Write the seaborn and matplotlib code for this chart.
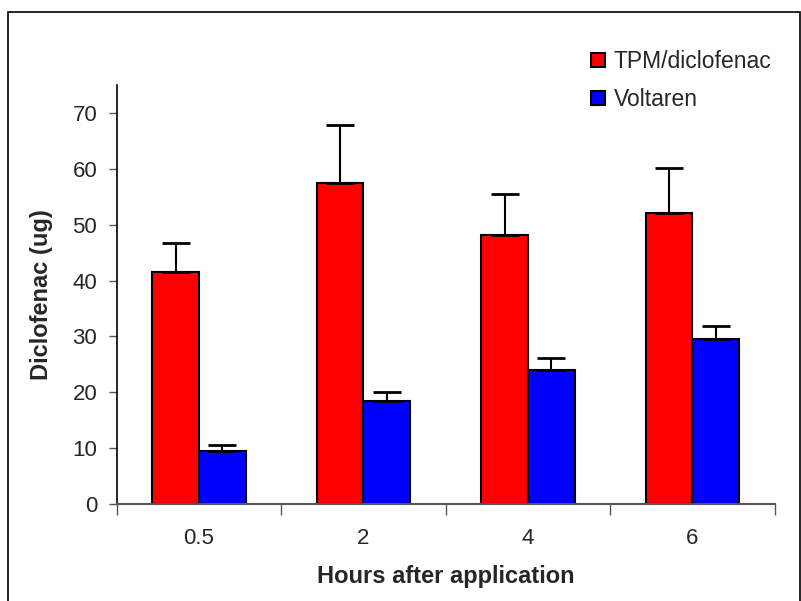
import numpy as np
import pandas as pd
import matplotlib
matplotlib.use("Agg")
import matplotlib.pyplot as plt
import seaborn as sns
from matplotlib.patches import Rectangle

# values
hours = ["0.5", "2", "4", "6"]
tpm_mean = [41.6, 57.4, 48.1, 52.1]
tpm_err = [5.1, 10.5, 7.4, 8.1]
volt_mean = [9.4, 18.4, 24.0, 29.5]
volt_err = [1.2, 1.7, 2.2, 2.4]
groups = ["TPM/diclofenac", "Voltaren"]
colors = ["#FF0000", "#0000FF"]

df = pd.DataFrame({
    "Hours": hours * 2,
    "Diclofenac": tpm_mean + volt_mean,
    "Group": [groups[0]] * 4 + [groups[1]] * 4,
})

sns.set_style("white")
plt.rcParams["font.family"] = ["Liberation Sans", "DejaVu Sans"]

fig = plt.figure(figsize=(8.01, 6.01), dpi=100)
ax = fig.add_axes([0.1457, 0.1614, 0.8215, 0.6972])

sns.barplot(data=df, x="Hours", y="Diclofenac", hue="Group", palette=colors,
            width=0.57, edgecolor="black", linewidth=1.5, errorbar=None,
            saturation=1, ax=ax)

# upper error bars only, placed on the bars seaborn drew
for cont, errs in zip(ax.containers, [tpm_err, volt_err]):
    xs = [b.get_x() + b.get_width() / 2 for b in cont]
    hs = [b.get_height() for b in cont]
    ax.errorbar(xs, hs, yerr=[np.zeros(len(errs)), errs], fmt="none",
                ecolor="black", elinewidth=1.5, capsize=10, capthick=2, zorder=1)

ax.set_xlim(-0.5, 3.5)
ax.set_ylim(0, 75)
ax.set_yticks(range(0, 80, 10))

# category boundaries get the tick marks, labels sit on minor ticks
ax.set_xticks([-0.5, 0.5, 1.5, 2.5, 3.5])
ax.set_xticklabels([])
ax.set_xticks(range(len(hours)), minor=True)
ax.set_xticklabels(hours, minor=True)
ax.tick_params(axis="x", which="major", direction="out", length=8, width=1, color="#555555", bottom=True)
ax.tick_params(axis="x", which="minor", length=0, pad=17, labelsize=16)
ax.tick_params(axis="y", direction="out", length=6, width=1, color="#555555", pad=8, labelsize=16, left=True)

for s in ["top", "right"]:
    ax.spines[s].set_visible(False)
ax.spines["left"].set_color("black")
ax.spines["left"].set_linewidth(1.2)
ax.spines["bottom"].set_color("#555555")
ax.spines["bottom"].set_linewidth(1.5)

ax.set_xlabel("Hours after application", fontsize=17, fontweight="bold", labelpad=12)
ax.set_ylabel("Diclofenac (ug)", fontsize=17, fontweight="bold")
ax.yaxis.set_label_coords(-0.097, 0.5)

handles, labels = ax.get_legend_handles_labels()
ax.legend(handles, labels, loc="upper left", bbox_to_anchor=(591 / 801, 1 - 50 / 601),
          bbox_transform=fig.transFigure, frameon=False, fontsize=16.5,
          handlelength=0.6, handleheight=0.6, handletextpad=0.4,
          labelspacing=0.65, borderpad=0, borderaxespad=0)

# outer chart frame
fig.patches.append(Rectangle((8 / 801, -0.01), 791.5 / 801, 1.01 - 12 / 601,
                             transform=fig.transFigure, fill=False,
                             edgecolor="black", linewidth=1.2))

fig.savefig("out.png", dpi=100)
